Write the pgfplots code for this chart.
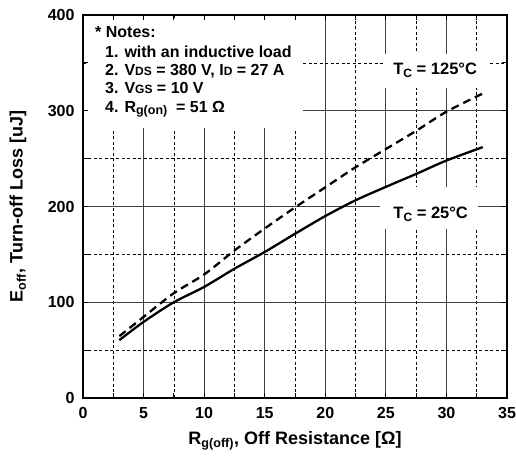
\documentclass[border=0pt]{standalone}
\usepackage{pgfplots}
\pgfplotsset{compat=1.18}
\usepackage{fontspec}
\setmainfont{Liberation Sans}
\begin{document}
\begin{tikzpicture}
\begin{axis}[name=ax, scale only axis, width=424pt, height=383pt,
  xmin=0, xmax=35, ymin=0, ymax=400,
  xtick={0,5,...,35}, ytick={0,100,...,400},
  minor xtick={2.5,7.5,...,32.5}, minor ytick={50,150,250,350},
  grid=both,
  major grid style={black!75, line width=0.8pt},
  minor grid style={black, line width=0.7pt, dash pattern=on 3pt off 2.5pt},
  axis line style={line width=1.4pt},
  tick style={black, line width=0.8pt}, major tick length=5pt, minor tick length=5pt,
  tick align=inside,
  ticklabel style={font=\bfseries\fontsize{16}{16}\selectfont},
  xticklabel style={yshift=-6pt},
  yticklabel style={xshift=-5pt},
  /pgf/number format/assume math mode=true,
  xlabel={R\textsubscript{g(off)}, Off Resistance [Ω]},
  ylabel={E\textsubscript{off}, Turn-off Loss [uJ]},
  label style={font=\bfseries\fontsize{18}{18}\selectfont},
  xlabel style={at={(axis description cs:0.5,0)}, anchor=center, yshift=-43pt},
  ylabel style={at={(axis description cs:0,0.5)}, anchor=center, yshift=65pt},
]
% white boxes
\fill[white] (axis cs:0.45,282) rectangle (axis cs:18.2,394.5);
\fill[white] (axis cs:24.8,324) rectangle (axis cs:33.4,359);
\fill[white] (axis cs:24.5,177) rectangle (axis cs:32.6,220);
% 25 C
\addplot[black, line width=2.3pt, smooth] coordinates {
(3,60.4) (5,79.5) (7.5,100) (10,116) (12.5,135) (15,152.5) (17.5,171.5) (20,190) (22.5,206.5) (25,220.5) (27.5,234) (30,248) (33,262)
};
% 125 C
\addplot[black, line width=2.3pt, smooth, dash pattern=on 8pt off 5pt] coordinates {
(3,64.6) (5,84.7) (7.5,109.5) (10,129) (12.5,154) (15,177) (17.5,199) (20,220) (22.5,241) (25,260) (27.5,279) (30,299) (33,318)
};
% notes
\node[anchor=base west, inner sep=0pt, font=\bfseries\fontsize{16}{16}\selectfont] at (axis cs:0.99,376) {* Notes:};
\node[anchor=base west, inner sep=0pt, font=\bfseries\fontsize{16}{16}\selectfont] at (axis cs:1.82,355.7) {1. with an inductive load};
\node[anchor=base west, inner sep=0pt, font=\bfseries\fontsize{16}{16}\selectfont] at (axis cs:1.82,336.5) {2. V{\fontsize{12}{12}\selectfont DS} = 380 V, I{\fontsize{12}{12}\selectfont D} = 27 A};
\node[anchor=base west, inner sep=0pt, font=\bfseries\fontsize{16}{16}\selectfont] at (axis cs:1.82,317.7) {3. V{\fontsize{12}{12}\selectfont GS} = 10 V};
\node[anchor=base west, inner sep=0pt, font=\bfseries\fontsize{16}{16}\selectfont] at (axis cs:1.82,298) {4. R\raisebox{-2pt}{\fontsize{12.5}{12.5}\selectfont g(on)} \ = 51 Ω};
% temperature labels
\node[anchor=base, inner sep=0pt, font=\bfseries\fontsize{16.5}{16.5}\selectfont] at (axis cs:29.07,338.2) {T\raisebox{-3pt}{\fontsize{12}{12}\selectfont C} = 125°C};
\node[anchor=base, inner sep=0pt, font=\bfseries\fontsize{16.5}{16.5}\selectfont] at (axis cs:28.7,187.8) {T\raisebox{-3pt}{\fontsize{12}{12}\selectfont C} = 25°C};
\end{axis}
\pgfresetboundingbox
\path ([xshift=-83pt,yshift=-59pt]ax.south west) rectangle ++(516pt,457pt);
\end{tikzpicture}
\end{document}
